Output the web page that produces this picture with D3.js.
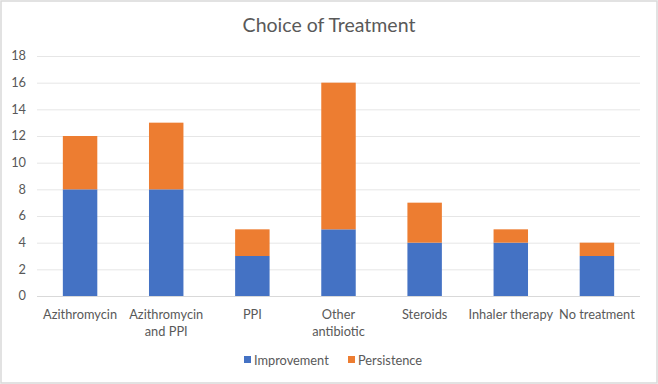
<!DOCTYPE html>
<head>
  <style>
    body { margin: 0; background: #fff; }
    text { font-family: Lato, "Noto Sans", sans-serif; fill: #595959; }
  </style>
<title>Choice of Treatment</title>
</head>
<body>
  <script src="https://cdn.jsdelivr.net/npm/d3@7"></script>
  <script>
    // data
    const categories = ["Azithromycin", "Azithromycin and PPI", "PPI", "Other antibiotic", "Steroids", "Inhaler therapy", "No treatment"];
    const improvement = [8, 8, 3, 5, 4, 4, 3];
    const persistence = [4, 5, 2, 11, 3, 1, 1];
    const yTicks = [0, 2, 4, 6, 8, 10, 12, 14, 16, 18];
    const seriesNames = ["Improvement", "Persistence"];
    const colors = ["#4472C4", "#ED7D31"];

    // labels that wrap onto two lines
    const labelLines = {
      "Azithromycin and PPI": ["Azithromycin", "and PPI"],
      "Other antibiotic": ["Other", "antibiotic"]
    };

    const W = 658, H = 384;
    const margin = { top: 56, right: 18, bottom: 88, left: 37 };
    const width = W - margin.left - margin.right;
    const height = H - margin.top - margin.bottom;

    const svg = d3.select("body").append("svg")
      .attr("width", W)
      .attr("height", H);

    // outer border
    svg.append("rect")
      .attr("x", 1).attr("y", 1)
      .attr("width", W - 2).attr("height", H - 2)
      .attr("fill", "#fff")
      .attr("stroke", "#d9d9d9")
      .attr("stroke-width", 1.5);

    const g = svg.append("g")
      .attr("transform", `translate(${margin.left},${margin.top})`);

    const x = d3.scaleBand().domain(categories).range([0, 603]);
    const y = d3.scaleLinear().domain([0, 18]).range([height, 0]);

    // gridlines
    g.selectAll(".grid")
      .data(yTicks)
      .enter().append("line")
      .attr("x1", 0).attr("x2", 603)
      .attr("y1", d => y(d) + 0.5).attr("y2", d => y(d) + 0.5)
      .attr("stroke", d => d === 0 ? "#d9d9d9" : "#e6e6e6")
      .attr("stroke-width", 1);

    // y tick labels
    g.selectAll(".ytick")
      .data(yTicks)
      .enter().append("text")
      .attr("x", -11)
      .attr("y", d => y(d))
      .attr("dy", "0.35em")
      .attr("text-anchor", "end")
      .style("font-size", "12.8px")
      .text(d => d);

    // stacked bars
    const rows = categories.map((c, i) => ({ cat: c, Improvement: improvement[i], Persistence: persistence[i] }));
    const stacked = d3.stack().keys(seriesNames)(rows);
    const barW = x.bandwidth() * 0.4;

    g.selectAll(".series")
      .data(stacked)
      .enter().append("g")
      .attr("fill", (d, i) => colors[i])
      .selectAll("rect")
      .data(d => d)
      .enter().append("rect")
      .attr("x", d => x(d.data.cat) + (x.bandwidth() - barW) / 2)
      .attr("y", d => y(d[1]))
      .attr("width", barW)
      .attr("height", d => y(d[0]) - y(d[1]));

    // category labels
    g.selectAll(".xlab")
      .data(categories)
      .enter().append("text")
      .attr("text-anchor", "middle")
      .attr("x", d => x(d) + x.bandwidth() / 2)
      .attr("y", height + 23)
      .style("font-size", "12.8px")
      .each(function (d) {
        const lines = labelLines[d] || [d];
        d3.select(this).selectAll("tspan")
          .data(lines)
          .enter().append("tspan")
          .attr("x", x(d) + x.bandwidth() / 2)
          .attr("dy", (l, i) => i === 0 ? 0 : 17)
          .text(l => l);
      });

    // title
    svg.append("text")
      .attr("x", W / 2)
      .attr("y", 32)
      .attr("text-anchor", "middle")
      .style("font-size", "19.5px")
      .text("Choice of Treatment");

    // legend
    const legendX = [244, 348];
    const legend = svg.selectAll(".legend")
      .data(seriesNames)
      .enter().append("g")
      .attr("transform", (d, i) => `translate(${legendX[i]},365)`);
    legend.append("rect")
      .attr("x", 0).attr("y", -9)
      .attr("width", 7).attr("height", 7)
      .attr("fill", (d, i) => colors[i]);
    legend.append("text")
      .attr("x", 10).attr("y", 0)
      .style("font-size", "12.8px")
      .text(d => d);
  </script>
</body>
